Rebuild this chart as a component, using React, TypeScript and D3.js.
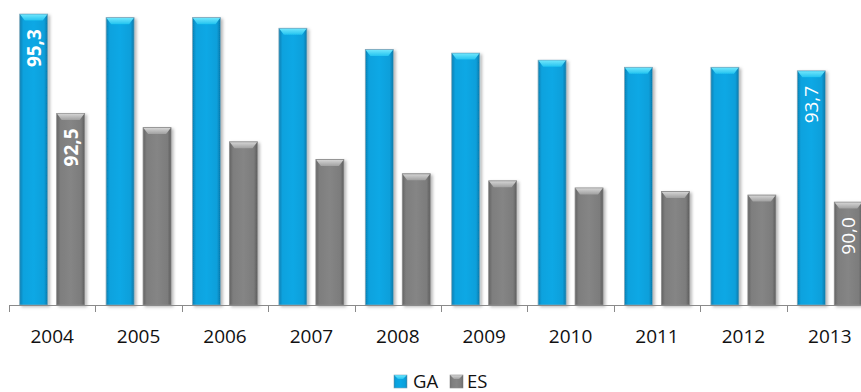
import React from 'react';
import * as d3 from 'd3';

const years = ['2004', '2005', '2006', '2007', '2008', '2009', '2010', '2011', '2012', '2013'];
const gaValues = [95.3, 95.2, 95.2, 94.9, 94.3, 94.2, 94.0, 93.8, 93.8, 93.7];
const esValues = [92.5, 92.1, 91.7, 91.2, 90.8, 90.6, 90.4, 90.3, 90.2, 90.0];
const seriesNames = ['GA', 'ES'];
const labeledYears = ['2004', '2013'];
const boldLabelYears = ['2004'];

const W = 861;
const H = 392;
const FONT = "'Open Sans', 'Noto Sans', sans-serif";

const fmt = (v: number) => v.toFixed(1).replace('.', ',');

export default function App() {
  const x = d3.scaleBand<string>().domain(years).range([9, 873]).paddingInner(0).paddingOuter(0);
  const xs = d3.scaleBand<string>().domain(seriesNames).range([0, x.step()]).paddingInner(0.243).paddingOuter(0.29);
  const y = d3.scaleLinear().domain([87.1, 95.5]).range([305, 7]);
  const base = y(87.1);

  const series = [
    { name: 'GA', values: gaValues, grad: 'gaBody', top: 'gaTop', stroke: '#7fa6b8' },
    { name: 'ES', values: esValues, grad: 'esBody', top: 'esTop', stroke: '#8c8c8c' },
  ];

  const bw = xs.bandwidth();
  const bevel = 6.5;
  const inset = 5;

  return (
    <svg width={W} height={H} style={{ position: 'absolute', left: 0, top: 0, background: '#fff' }}>
      <defs>
        <linearGradient id="gaBody" x1="0" x2="1" y1="0" y2="0">
          <stop offset="0%" stopColor="#057fb3" />
          <stop offset="13%" stopColor="#0aa2de" />
          <stop offset="50%" stopColor="#0aa8e5" />
          <stop offset="87%" stopColor="#0a9fda" />
          <stop offset="100%" stopColor="#0577a9" />
        </linearGradient>
        <linearGradient id="gaTop" x1="0" x2="0" y1="0" y2="1">
          <stop offset="0%" stopColor="#6fe6fc" />
          <stop offset="100%" stopColor="#23c3f0" />
        </linearGradient>
        <linearGradient id="esBody" x1="0" x2="1" y1="0" y2="0">
          <stop offset="0%" stopColor="#636363" />
          <stop offset="13%" stopColor="#7e7e7e" />
          <stop offset="50%" stopColor="#858585" />
          <stop offset="87%" stopColor="#7c7c7c" />
          <stop offset="100%" stopColor="#5c5c5c" />
        </linearGradient>
        <linearGradient id="esTop" x1="0" x2="0" y1="0" y2="1">
          <stop offset="0%" stopColor="#d4d4d4" />
          <stop offset="100%" stopColor="#a0a0a0" />
        </linearGradient>
        <filter id="shadow" x="-30%" y="-10%" width="160%" height="120%">
          <feDropShadow dx="2" dy="1.5" stdDeviation="1.6" floodColor="#000" floodOpacity="0.28" />
        </filter>
      </defs>

      {series.map((s) =>
        years.map((yr, i) => {
          const bx = (x(yr) as number) + (xs(s.name) as number);
          const by = y(s.values[i]);
          const h = base - by;
          return (
            <g key={s.name + yr} filter="url(#shadow)">
              <rect x={bx} y={by} width={bw} height={h} fill={`url(#${s.grad})`} stroke={s.stroke} strokeWidth={0.8} />
              <path
                d={`M${bx + 0.4},${by + 0.4} L${bx + bw - 0.4},${by + 0.4} L${bx + bw - inset},${by + bevel} L${bx + inset},${by + bevel} Z`}
                fill={`url(#${s.top})`}
              />
            </g>
          );
        })
      )}

      {/* axis */}
      <line x1={9} x2={873} y1={base + 0.5} y2={base + 0.5} stroke="#8a8a8a" strokeWidth={1} />
      {[...years.map((yr) => x(yr) as number), (x(years[years.length - 1]) as number) + x.step()].map((tx, i) => (
        <line key={'t' + i} x1={Math.round(tx) + 0.5} x2={Math.round(tx) + 0.5} y1={base} y2={base + 7} stroke="#8a8a8a" strokeWidth={1} />
      ))}
      {years.map((yr) => (
        <text
          key={'l' + yr}
          x={(x(yr) as number) + x.step() / 2}
          y={343}
          textAnchor="middle"
          fontFamily={FONT}
          fontSize={19}
          fill="#111"
        >
          {yr}
        </text>
      ))}

      {/* data labels */}
      {series.map((s) =>
        years.map((yr, i) => {
          if (!labeledYears.includes(yr)) return null;
          const cx = (x(yr) as number) + (xs(s.name) as number) + bw / 2;
          const top = y(s.values[i]);
          return (
            <text
              key={'d' + s.name + yr}
              transform={`translate(${cx},${top + 15}) rotate(-90)`}
              textAnchor="end"
              dy="0.36em"
              fontFamily={FONT}
              fontSize={19}
              fontWeight={boldLabelYears.includes(yr) ? 700 : 400}
              fill="#fff"
            >
              {fmt(s.values[i])}
            </text>
          );
        })
      )}

      {/* legend */}
      <g>
        <rect x={394} y={375} width={13} height={13} fill="url(#gaBody)" stroke="#7fa6b8" strokeWidth={0.6} />
        <path d="M394.3,375.3 L406.7,375.3 L403,379 L398,379 Z" fill="url(#gaTop)" />
        <text x={413} y={387.5} fontFamily={FONT} fontSize={18.5} fill="#111">{seriesNames[0]}</text>
        <rect x={450} y={375} width={13} height={13} fill="url(#esBody)" stroke="#8c8c8c" strokeWidth={0.6} />
        <path d="M450.3,375.3 L462.7,375.3 L459,379 L454,379 Z" fill="url(#esTop)" />
        <text x={467} y={387.5} fontFamily={FONT} fontSize={18.5} fill="#111">{seriesNames[1]}</text>
      </g>
    </svg>
  );
}
